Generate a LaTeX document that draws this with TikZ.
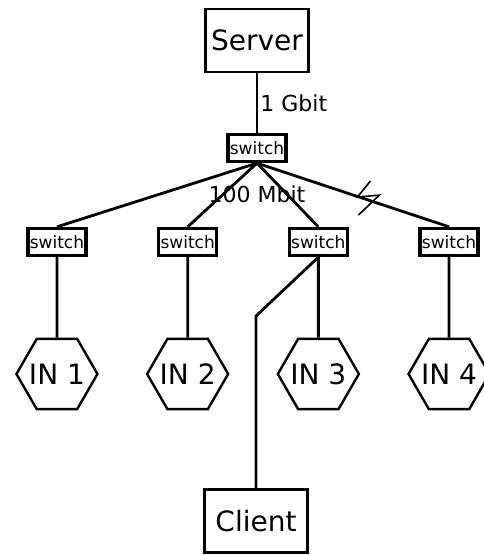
\documentclass[tikz,border=0pt]{standalone}
\usepackage{fontspec}
\setmainfont{DejaVu Sans}
\usetikzlibrary{shapes.geometric,calc,trees}
\newcommand{\bigtxt}{\fontsize{28}{32}\selectfont}
\newcommand{\midtxt}{\fontsize{22}{26}\selectfont}
\newcommand{\smalltxt}{\fontsize{17}{20}\selectfont}

\begin{document}
\begin{tikzpicture}[x=1pt,y=1pt]
                        \tikzstyle{box}=[draw, line width=2.3pt, font=\bigtxt, minimum width=103pt, minimum height=63pt, inner sep=0pt]
                        \tikzstyle{switchbox}=[draw, line width=3.3pt, font=\smalltxt, minimum width=58pt, minimum height=27pt, inner sep=0pt]
                        \tikzstyle{hexa}=[draw, line width=2.4pt, regular polygon, regular polygon sides=6, minimum size=81pt, inner sep=-6pt, font=\bigtxt]
                        \tikzstyle{level 1}=[level distance=107.5pt]
                        \tikzstyle{level 2}=[grow via three points={one child at (-4,-94) and two children at (-69.35,-94) and (61.35,-94)}]
                        \tikzstyle{level 3}=[grow=down, level distance=132pt]
                        \useasboundingbox (0,0) rectangle (484,555);
                        % server, uplink switch and the four leaf switches
                        \node[box] (server) at (257,514.5) {Server}
                            [edge from parent/.style={draw, line width=2.8pt},
                             edge from parent path={(\tikzparentnode.south) -- (\tikzchildnode.north)}]
                            child {node[switchbox] (sw0) {switch}
                                child {node[switchbox] (sw1) {switch}
                                    child {node[hexa] (in1) {IN 1}
                                    }
                                }
                                child {node[switchbox] (sw2) {switch}
                                    child {node[hexa] (in2) {IN 2}
                                    }
                                }
                                child {node[switchbox] (sw3) {switch}
                                    child {node[hexa] (in3) {IN 3}
                                    }
                                }
                                child {node[switchbox] (sw4) {switch}
                                    child {node[hexa] (in4) {IN 4}
                                    }
                                }
                                edge from parent node[right, font=\midtxt, inner sep=2pt] (gbit) {1 Gbit}
                            };
                        \node[font=\midtxt] (mbit) at ([yshift=-31pt]sw0.south) {100 Mbit};
                        % broken link to the last switch
                        \coordinate (brk) at ($(sw0.south)!0.58!(sw4.north)$);
                        \draw[line width=1.6pt] ([shift={(2,19)}]brk) -- ([shift={(-11,3)}]brk)
                            -- ([shift={(11,5)}]brk) -- ([shift={(-10,-15)}]brk);
                        % client hangs off the third switch
                        \node[box] (client) at (256,34) {Client};
                        \coordinate (bend) at (client.north |- 0,239);
                        \draw[line width=2.8pt] (sw3.south) -- (bend) -- (client.north);
                    \end{tikzpicture}
\end{document}
